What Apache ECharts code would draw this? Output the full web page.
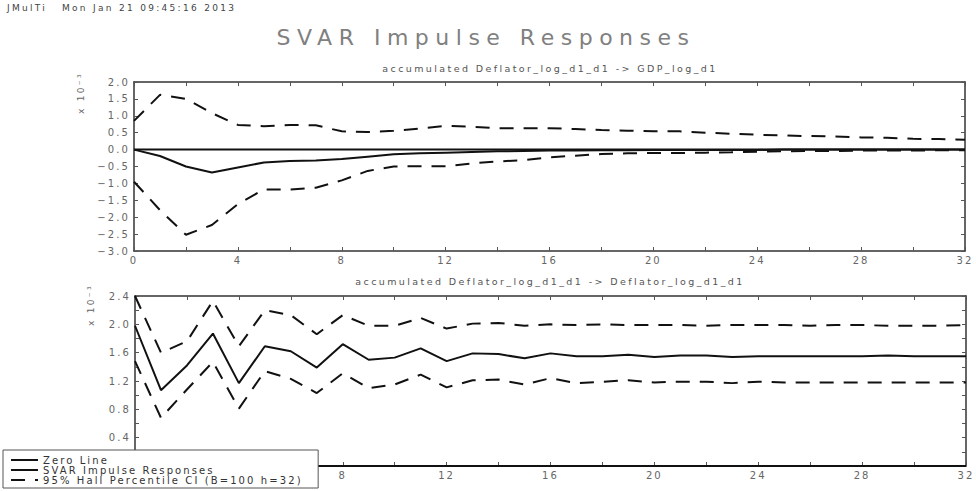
<!DOCTYPE html>
<html>
<head>
<meta charset="utf-8">
<script src="https://cdn.jsdelivr.net/npm/echarts@6/dist/echarts.min.js"></script>
<style>
  html, body { margin: 0; padding: 0; background: #fff; }
  #main { width: 976px; height: 491px; }
  #main text { letter-spacing: 2px; }
  #main text[style*="10px"] { letter-spacing: 2.1px; }
  #main text[style*="9px"] { letter-spacing: 2.3px; }
  #main text[style*="9.5px"] { letter-spacing: 2.4px; }
  #main text[style*="22px"] { letter-spacing: 6.5px; }
</style>
</head>
<body>
<div id="main"></div>
<script>
// ---- data (values in units of 10^-3) ----
const horizons = [0,1,2,3,4,5,6,7,8,9,10,11,12,13,14,15,16,17,18,19,20,21,22,23,24,25,26,27,28,29,30,31,32];

// Panel 1: accumulated Deflator_log_d1_d1 -> GDP_log_d1
const gdpPoint = [0, -0.19, -0.50, -0.68, -0.53, -0.38, -0.34, -0.32, -0.28, -0.21, -0.14, -0.11, -0.09, -0.07, -0.05, -0.04, -0.03, -0.03, -0.02, -0.02, -0.01, -0.01, -0.01, -0.01, -0.01, 0, 0, 0, 0, 0, 0, 0, 0];
const gdpUpper = [0.85, 1.62, 1.50, 1.08, 0.73, 0.69, 0.73, 0.72, 0.54, 0.52, 0.56, 0.62, 0.70, 0.68, 0.63, 0.63, 0.63, 0.61, 0.58, 0.56, 0.54, 0.54, 0.50, 0.47, 0.44, 0.42, 0.40, 0.39, 0.36, 0.35, 0.32, 0.31, 0.29];
const gdpLower = [-0.95, -1.79, -2.52, -2.23, -1.61, -1.18, -1.18, -1.13, -0.91, -0.63, -0.50, -0.49, -0.49, -0.41, -0.35, -0.31, -0.23, -0.18, -0.13, -0.11, -0.10, -0.10, -0.09, -0.08, -0.06, -0.05, -0.04, -0.04, -0.03, -0.03, -0.03, -0.02, -0.02];

// Panel 2: accumulated Deflator_log_d1_d1 -> Deflator_log_d1_d1
const defPoint = [1.98, 1.07, 1.42, 1.87, 1.17, 1.69, 1.62, 1.39, 1.72, 1.50, 1.53, 1.66, 1.48, 1.59, 1.58, 1.52, 1.59, 1.55, 1.55, 1.57, 1.54, 1.56, 1.56, 1.54, 1.55, 1.55, 1.55, 1.55, 1.55, 1.56, 1.55, 1.55, 1.55];
const defUpper = [2.40, 1.60, 1.76, 2.33, 1.69, 2.20, 2.13, 1.86, 2.13, 1.98, 1.98, 2.09, 1.94, 2.01, 2.02, 1.98, 2.00, 1.99, 2.00, 1.99, 1.99, 1.99, 1.98, 1.99, 1.99, 1.99, 1.98, 1.99, 1.99, 1.98, 1.98, 1.98, 1.99];
const defLower = [1.48, 0.68, 1.08, 1.47, 0.81, 1.34, 1.23, 1.03, 1.31, 1.10, 1.15, 1.29, 1.11, 1.21, 1.22, 1.15, 1.24, 1.17, 1.19, 1.21, 1.18, 1.19, 1.19, 1.17, 1.19, 1.18, 1.18, 1.18, 1.18, 1.18, 1.18, 1.18, 1.18];
const zeroLine = [0,0,0,0,0,0,0,0,0,0,0,0,0,0,0,0,0,0,0,0,0,0,0,0,0,0,0,0,0,0,0,0,0];

// texts
const mainTitle = 'SVAR Impulse Responses';
const headerApp = 'JMulTi';
const headerDate = 'Mon Jan 21 09:45:16 2013';
const panelTitles = ['accumulated Deflator_log_d1_d1 -> GDP_log_d1', 'accumulated Deflator_log_d1_d1 -> Deflator_log_d1_d1'];
const scaleLabel = 'x 10\u207B\u00B3';
const NAME_ZERO = 'Zero Line';
const NAME_IR = 'SVAR Impulse Responses';
const NAME_CI = '95% Hall Percentile CI (B=100 h=32)';

// ---- helpers ----
const FONT = 'DejaVu Sans';
const pair = arr => horizons.map((h, i) => [h, arr[i]]);
const fmt = v => {
  const r = Math.round(v * 10) / 10;
  if (r === 0) return '0.0';
  return (r < 0 ? '\u2212' : '') + Math.abs(r).toFixed(1);
};
const frame = { show: true, onZero: false, lineStyle: { color: '#333', width: 1.5 } };
const tick = { show: true, inside: true, length: 4, lineStyle: { color: '#555', width: 1 } };
const minor = { show: true, splitNumber: 2, length: 4, lineStyle: { color: '#555', width: 1 } };
const lbl = { fontFamily: FONT, fontSize: 10, color: '#666' };

function xAxes(gi, labelFmt) {
  return [
    { gridIndex: gi, type: 'value', min: 0, max: 32, interval: 4, position: 'bottom',
      axisLine: frame, axisTick: tick, minorTick: minor, splitLine: { show: false },
      axisLabel: Object.assign({ margin: 4, formatter: labelFmt }, lbl) },
    { gridIndex: gi, type: 'value', min: 0, max: 32, interval: 4, position: 'top',
      axisLine: frame, axisTick: tick, minorTick: minor, splitLine: { show: false },
      axisLabel: { show: false } }
  ];
}

function lineSeries(name, xi, yi, arr, dashed) {
  return {
    name, type: 'line', xAxisIndex: xi, yAxisIndex: yi, data: pair(arr),
    symbol: 'none', showSymbol: false, silent: true, animation: false,
    itemStyle: { color: '#111' },
    lineStyle: { color: '#111', width: 2, type: dashed ? [14, 10] : 'solid' },
    emphasis: { disabled: true }
  };
}

const option = {
  animation: false,
  backgroundColor: '#fff',
  title: [
    { text: headerApp, left: 7, top: 3, padding: 0, textStyle: { fontFamily: FONT, fontSize: 9, fontWeight: 'normal', color: '#444' } },
    { text: headerDate, left: 62, top: 3, padding: 0, textStyle: { fontFamily: FONT, fontSize: 9, fontWeight: 'normal', color: '#444' } },
    { text: mainTitle, left: 486, top: 26, padding: 0, textAlign: 'center', textStyle: { fontFamily: FONT, fontSize: 22, fontWeight: 'normal', color: '#808080' } },
    { text: panelTitles[0], left: 550, top: 63, padding: 0, textAlign: 'center', textStyle: { fontFamily: FONT, fontSize: 9.5, fontWeight: 'normal', color: '#555' } },
    { text: panelTitles[1], left: 550, top: 276, padding: 0, textAlign: 'center', textStyle: { fontFamily: FONT, fontSize: 9.5, fontWeight: 'normal', color: '#555' } }
  ],
  graphic: [
    { type: 'text', x: 81, y: 114, rotation: Math.PI / 2, silent: true,
      style: { text: scaleLabel, fontFamily: FONT, fontSize: 9, fill: '#666', textVerticalAlign: 'middle' } },
    { type: 'text', x: 91, y: 326, rotation: Math.PI / 2, silent: true,
      style: { text: scaleLabel, fontFamily: FONT, fontSize: 9, fill: '#666', textVerticalAlign: 'middle' } }
  ],
  legend: {
    orient: 'vertical', left: 3, top: 450, itemGap: 0, itemWidth: 27, itemHeight: 9.5,
    padding: [5, 89, 3, 7], backgroundColor: '#fff', borderColor: '#555', borderWidth: 1, borderRadius: 0,
    selectedMode: false,
    itemStyle: { opacity: 0 },
    textStyle: { fontFamily: FONT, fontSize: 10, color: '#333' },
    data: [NAME_ZERO, NAME_IR, NAME_CI]
  },
  grid: [
    { left: 134, top: 82, width: 831, height: 169, show: false },
    { left: 135, top: 296, width: 831, height: 170, show: false }
  ],
  xAxis: [].concat(
    xAxes(0, v => String(v)),
    // the legend box covers the first two labels of the lower panel
    xAxes(1, v => (v < 8 ? '' : String(v)))
  ),
  yAxis: [
    { gridIndex: 0, type: 'value', min: -3, max: 2, interval: 0.5, position: 'left',
      axisLine: frame, axisTick: tick, splitLine: { show: false },
      axisLabel: Object.assign({ margin: 4, formatter: fmt }, lbl) },
    { gridIndex: 0, type: 'value', min: -3, max: 2, interval: 0.5, position: 'right',
      axisLine: frame, axisTick: tick, splitLine: { show: false }, axisLabel: { show: false } },
    { gridIndex: 1, type: 'value', min: 0, max: 2.4, interval: 0.4, position: 'left',
      axisLine: frame, axisTick: tick, minorTick: minor, splitLine: { show: false },
      axisLabel: Object.assign({ margin: 4, formatter: fmt, showMinLabel: false }, lbl) },
    { gridIndex: 1, type: 'value', min: 0, max: 2.4, interval: 0.4, position: 'right',
      axisLine: frame, axisTick: tick, minorTick: minor, splitLine: { show: false }, axisLabel: { show: false } }
  ],
  series: [
    lineSeries(NAME_ZERO, 0, 0, zeroLine, false),
    lineSeries(NAME_IR, 0, 0, gdpPoint, false),
    lineSeries(NAME_CI, 0, 0, gdpUpper, true),
    lineSeries(NAME_CI, 0, 0, gdpLower, true),
    lineSeries(NAME_ZERO, 2, 2, zeroLine, false),
    lineSeries(NAME_IR, 2, 2, defPoint, false),
    lineSeries(NAME_CI, 2, 2, defUpper, true),
    lineSeries(NAME_CI, 2, 2, defLower, true)
  ]
};

const chart = echarts.init(document.getElementById('main'), null, { renderer: 'svg', width: 976, height: 491 });
chart.setOption(option);
</script>
</body>
</html>
